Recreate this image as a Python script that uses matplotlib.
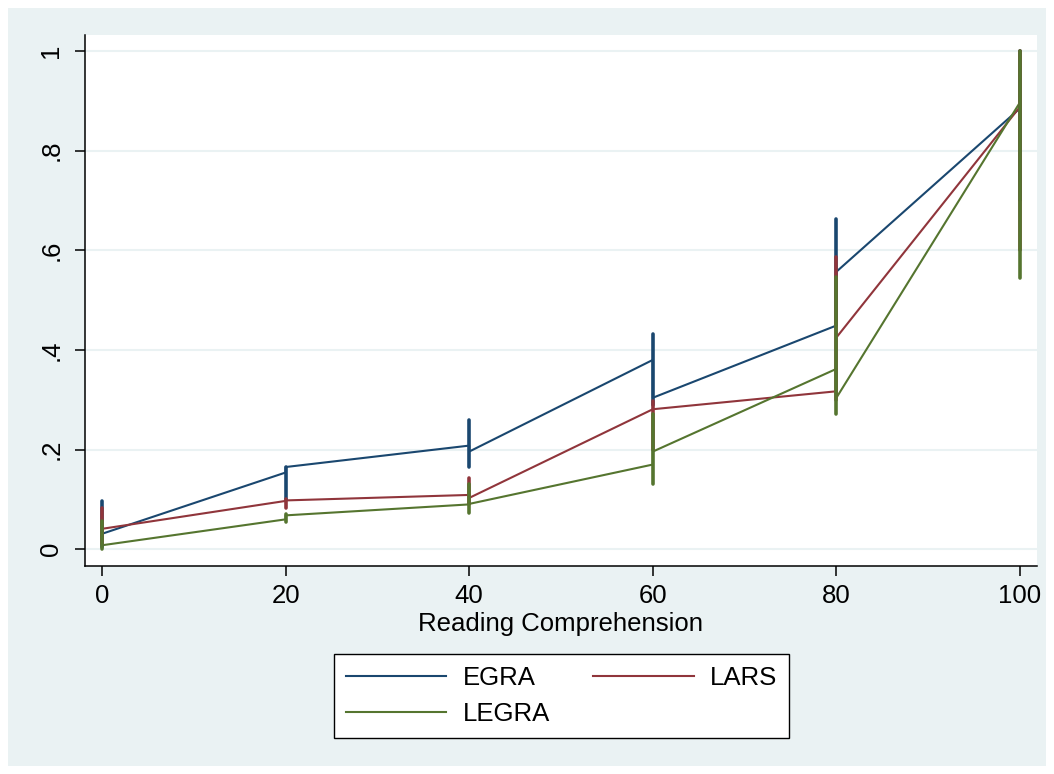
import numpy as np
import matplotlib.pyplot as plt
from matplotlib.patches import Rectangle

plt.rcParams['font.family'] = ['Liberation Sans', 'DejaVu Sans']

# scores at each reading-comprehension level
x_levels = [0, 20, 40, 60, 80, 100]

# line value where segment arrives at a level, and where the next one leaves
egra_in = [0.031, 0.154, 0.208, 0.380, 0.449, 0.885]
egra_out = [0.031, 0.165, 0.196, 0.304, 0.557, 0.885]
lars_in = [0.041, 0.097, 0.109, 0.281, 0.317, 0.888]
lars_out = [0.041, 0.098, 0.103, 0.281, 0.425, 0.888]
legra_in = [0.008, 0.060, 0.090, 0.170, 0.362, 0.897]
legra_out = [0.008, 0.068, 0.091, 0.196, 0.304, 0.897]

# interval spikes
egra_lo = [0.005, 0.100, 0.166, 0.290, 0.450, 0.700]
egra_hi = [0.097, 0.165, 0.260, 0.431, 0.662, 1.000]
lars_lo = [0.010, 0.083, 0.090, 0.200, 0.300, 0.600]
lars_hi = [0.083, 0.100, 0.143, 0.298, 0.586, 1.000]
legra_lo = [0.000, 0.055, 0.073, 0.130, 0.272, 0.545]
legra_hi = [0.056, 0.071, 0.130, 0.271, 0.546, 1.000]

yticks = [0, 0.2, 0.4, 0.6, 0.8, 1]
ytick_labels = ["0", ".2", ".4", ".6", ".8", "1"]

series = [("EGRA", egra_in, egra_out, egra_lo, egra_hi, "#1a476f"),
          ("LARS", lars_in, lars_out, lars_lo, lars_hi, "#90353b"),
          ("LEGRA", legra_in, legra_out, legra_lo, legra_hi, "#55752f")]

FS = 18.5
W, H = 1054, 774
fig = plt.figure(figsize=(W / 100, H / 100), dpi=100, facecolor="white")
fig.patches.append(Rectangle((8 / W, 8 / H), 1038 / W, 758 / H, transform=fig.transFigure,
                             facecolor="#eaf2f3", edgecolor="none", zorder=-5))
ax = fig.add_axes([85 / W, 1 - 565.7 / H, (1037 - 85) / W, (565.7 - 35) / H])
ax.set_facecolor("white")

handles = {}
for name, yin, yout, lo, hi, col in series:
    px, py = [], []
    for i, xv in enumerate(x_levels):
        px += [xv, xv]
        py += [yin[i], yout[i]]
    ln, = ax.plot(px, py, color=col, lw=1.5, zorder=3)
    handles[name] = ln
for name, yin, yout, lo, hi, col in series:
    ax.vlines(x_levels, lo, hi, color=col, lw=2.6, capstyle="round", zorder=4)

ax.set_xlim(-1.85, 101.85)
ax.set_ylim(-0.033, 1.032)
ax.set_xticks(x_levels)
ax.set_yticks(yticks)
ax.set_yticklabels(ytick_labels, rotation=90, va="center")
ax.grid(axis="y", color="#eaf2f3", lw=1.5, zorder=1)
ax.set_axisbelow(True)
for s in ["top", "right"]:
    ax.spines[s].set_visible(False)
for s in ["left", "bottom"]:
    ax.spines[s].set_linewidth(1.1)
ax.tick_params(direction="out", length=7.2, width=1.1, labelsize=FS, pad=6)
ax.tick_params(axis="y", pad=8.5)
ax.set_xlabel("Reading Comprehension", fontsize=FS, labelpad=3)

leg = fig.legend([handles["EGRA"], handles["LEGRA"], handles["LARS"]], ["EGRA", "LEGRA", "LARS"],
                 ncol=2, loc="center", bbox_to_anchor=(561.5 / W, 1 - 696 / H),
                 fontsize=FS, handlelength=3.9, handletextpad=0.63, columnspacing=1.7,
                 frameon=True, fancybox=False, edgecolor="black", facecolor="white",
                 framealpha=1, borderpad=0.45, labelspacing=0.5, borderaxespad=0)
leg.get_frame().set_linewidth(1.0)

fig.savefig("out.png", dpi=100, facecolor="white")
